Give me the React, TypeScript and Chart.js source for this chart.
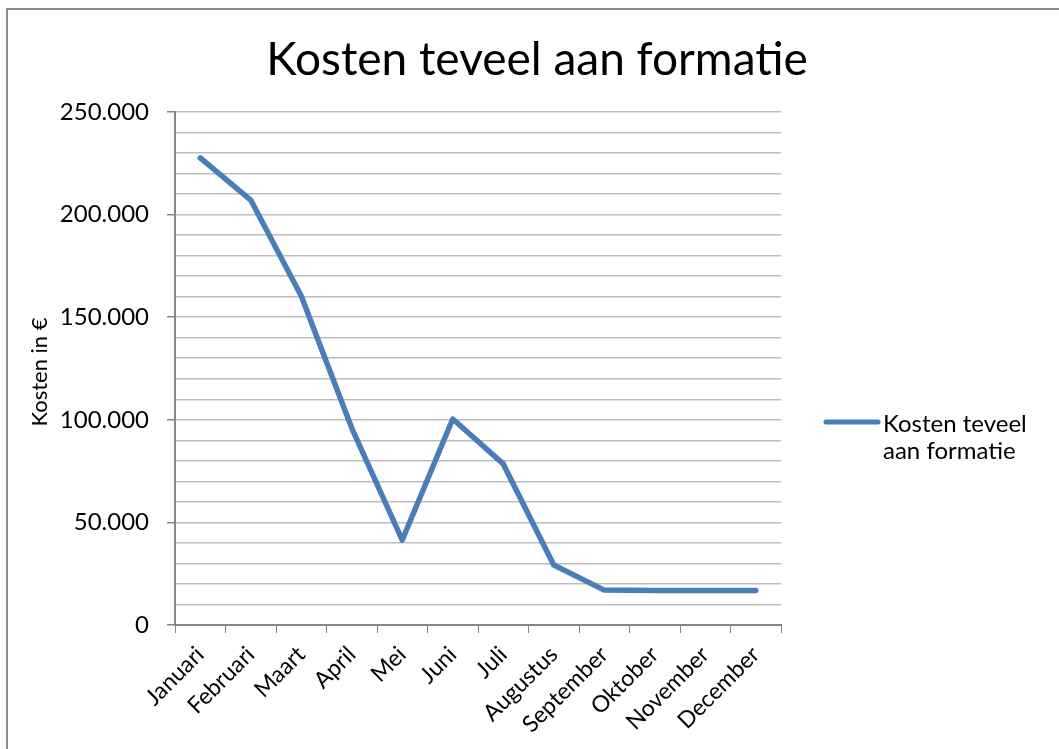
import React, { useEffect, useRef } from "react";
import { Chart, registerables } from "chart.js";

Chart.register(...registerables);

const chartTitle = "Kosten teveel aan formatie";
const yAxisTitle = "Kosten in €";
const seriesLabel = "Kosten teveel aan formatie";
const legendLines = ["Kosten teveel", "aan formatie"];
const months = [
  "Januari", "Februari", "Maart", "April", "Mei", "Juni",
  "Juli", "Augustus", "September", "Oktober", "November", "December",
];
const costs = [227600, 207100, 160300, 96000, 41400, 100400, 78500, 29200, 17000, 16800, 16800, 16800];
const yMin = 0;
const yMax = 250000;
const yGridStep = 10000;
const yLabelStep = 50000;

const FONT = "Lato, 'Open Sans', sans-serif";
const LINE_COLOR = "#4a7ebb";
const AXIS_COLOR = "#868686";
const GRID_COLOR = "#bdbdbd";

function fmt(v: number): string {
  const s = String(Math.round(v));
  return s.replace(/\B(?=(\d{3})+(?!\d))/g, ".");
}

const decorPlugin = {
  id: "decor",
  afterDraw(chart: any) {
    const ctx = chart.ctx as CanvasRenderingContext2D;
    ctx.save();
    ctx.fillStyle = "#000";
    // title
    ctx.font = `46px ${FONT}`;
    ctx.textAlign = "center";
    ctx.textBaseline = "alphabetic";
    ctx.fillText(chartTitle, 537, 75);
    // y axis title
    ctx.save();
    ctx.translate(47, 372);
    ctx.rotate(-Math.PI / 2);
    ctx.font = `22px ${FONT}`;
    ctx.textAlign = "center";
    ctx.textBaseline = "alphabetic";
    ctx.fillText(yAxisTitle, 0, 0);
    ctx.restore();
    // legend
    const ds = chart.data.datasets[0];
    ctx.strokeStyle = ds.borderColor;
    ctx.lineWidth = 5;
    ctx.lineCap = "round";
    ctx.beginPath();
    ctx.moveTo(826, 422);
    ctx.lineTo(878, 422);
    ctx.stroke();
    ctx.font = `24px ${FONT}`;
    ctx.textAlign = "left";
    ctx.fillStyle = "#000";
    legendLines.forEach((t, i) => ctx.fillText(t, 883, 432 + i * 27));
    ctx.restore();
  },
};

export default function App() {
  const ref = useRef<HTMLCanvasElement>(null);
  useEffect(() => {
    if (!ref.current) return;
    const chart = new Chart(ref.current, {
      type: "line",
      data: {
        labels: months,
        datasets: [
          {
            label: seriesLabel,
            data: costs,
            borderColor: LINE_COLOR,
            backgroundColor: LINE_COLOR,
            borderWidth: 5.5,
            pointRadius: 0,
            pointHoverRadius: 0,
            tension: 0,
            borderCapStyle: "round",
            borderJoinStyle: "round",
          },
        ],
      },
      options: {
        responsive: false,
        animation: false,
        events: [],
        layout: { padding: { top: 112, right: 278, left: 0, bottom: 0 } },
        plugins: { legend: { display: false }, title: { display: false }, tooltip: { enabled: false } },
        scales: {
          x: {
            type: "category",
            offset: true,
            grid: {
              offset: true,
              drawOnChartArea: false,
              drawTicks: true,
              tickLength: 8,
              color: AXIS_COLOR,
              tickColor: AXIS_COLOR,
            },
            border: { color: AXIS_COLOR, width: 2 },
            ticks: {
              autoSkip: false,
              maxRotation: 45,
              minRotation: 45,
              padding: 8,
              color: "#000",
              font: { family: FONT, size: 23 },
            },
            afterFit(scale: any) {
              scale.height = 124;
            },
          },
          y: {
            min: yMin,
            max: yMax,
            grid: {
              color: GRID_COLOR,
              lineWidth: 1.5,
              drawTicks: true,
              tickLength: 8,
              tickColor: (c: any) =>
                c.tick && c.tick.value % yLabelStep === 0 ? AXIS_COLOR : "rgba(0,0,0,0)",
            },
            border: { color: AXIS_COLOR, width: 2 },
            ticks: {
              stepSize: yGridStep,
              autoSkip: false,
              padding: 18,
              color: "#000",
              font: { family: FONT, size: 24 },
              callback: (v: any) => (Number(v) % yLabelStep === 0 ? fmt(Number(v)) : ""),
            },
            afterFit(scale: any) {
              scale.width = 175;
            },
          },
        },
      },
      plugins: [decorPlugin],
    });
    return () => chart.destroy();
  }, []);
  return (
    <>
      <div
        style={{
          position: "absolute",
          left: 6,
          top: 8,
          width: 1053,
          height: 741,
          borderLeft: "2px solid #8c8c8c",
          borderTop: "2px solid #8c8c8c",
          boxSizing: "border-box",
        }}
      />
      <canvas
        ref={ref}
        width={1059}
        height={749}
        style={{ position: "absolute", left: 0, top: 0, width: 1059, height: 749 }}
      />
    </>
  );
}
